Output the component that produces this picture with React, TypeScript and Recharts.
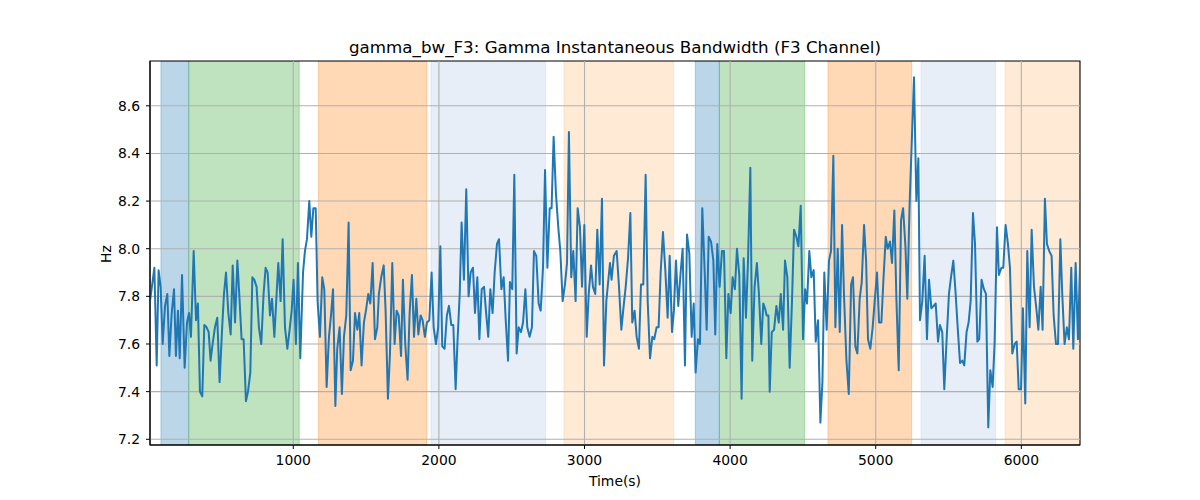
import React from 'react';
import {
  LineChart,
  Line,
  XAxis,
  YAxis,
  ReferenceArea,
  ReferenceLine,
} from 'recharts';

const times = [
  16, 46, 62, 75, 89, 103, 119, 135, 149, 165,
  181, 194, 208, 220, 236, 254, 270, 284, 297, 316,
  332, 345, 359, 375, 389, 405, 419, 432, 446, 462,
  478, 494, 510, 524, 538, 554, 570, 584, 600, 616,
  629, 645, 659, 675, 689, 705, 719, 732, 748, 764,
  780, 796, 810, 824, 840, 854, 870, 883, 897, 913,
  927, 943, 959, 975, 989, 1002, 1018, 1032, 1048, 1067,
  1080, 1094, 1110, 1124, 1138, 1154, 1167, 1183, 1199, 1213,
  1229, 1245, 1259, 1273, 1289, 1302, 1318, 1334, 1348, 1364,
  1380, 1394, 1410, 1424, 1440, 1453, 1469, 1485, 1499, 1515,
  1529, 1545, 1561, 1577, 1588, 1604, 1621, 1634, 1650, 1664,
  1680, 1696, 1710, 1724, 1740, 1753, 1769, 1785, 1799, 1815,
  1829, 1845, 1859, 1875, 1888, 1904, 1918, 1934, 1950, 1964,
  1980, 1995, 2010, 2023, 2039, 2055, 2069, 2085, 2099, 2115,
  2127, 2143, 2156, 2172, 2188, 2204, 2218, 2234, 2248, 2264,
  2278, 2294, 2310, 2323, 2339, 2353, 2369, 2383, 2399, 2413,
  2429, 2445, 2459, 2475, 2488, 2504, 2518, 2534, 2548, 2564,
  2578, 2594, 2607, 2623, 2639, 2653, 2669, 2685, 2699, 2715,
  2729, 2745, 2761, 2774, 2788, 2804, 2820, 2834, 2850, 2866,
  2880, 2893, 2909, 2923, 2939, 2953, 2969, 2983, 2999, 3015,
  3029, 3045, 3058, 3074, 3088, 3104, 3120, 3134, 3150, 3164,
  3175, 3186, 3202, 3221, 3237, 3253, 3269, 3283, 3299, 3315,
  3328, 3344, 3358, 3374, 3388, 3404, 3420, 3434, 3450, 3466,
  3479, 3495, 3509, 3523, 3539, 3555, 3571, 3585, 3601, 3614,
  3628, 3644, 3660, 3674, 3690, 3704, 3720, 3736, 3750, 3763,
  3779, 3793, 3809, 3825, 3839, 3853, 3869, 3885, 3898, 3912,
  3928, 3944, 3958, 3974, 3988, 4004, 4017, 4033, 4047, 4063,
  4079, 4093, 4109, 4123, 4139, 4152, 4168, 4184, 4198, 4214,
  4228, 4240, 4251, 4263, 4272, 4286, 4302, 4318, 4334, 4348,
  4364, 4377, 4393, 4409, 4425, 4439, 4455, 4469, 4485, 4501,
  4515, 4528, 4544, 4558, 4574, 4588, 4604, 4620, 4634, 4647,
  4663, 4679, 4693, 4709, 4723, 4739, 4753, 4769, 4782, 4799,
  4815, 4831, 4844, 4860, 4874, 4890, 4904, 4920, 4934, 4947,
  4963, 4979, 4993, 5009, 5023, 5039, 5053, 5069, 5082, 5098,
  5112, 5128, 5142, 5158, 5174, 5188, 5204, 5217, 5233, 5263,
  5279, 5293, 5304, 5320, 5336, 5352, 5366, 5382, 5398, 5412,
  5428, 5441, 5457, 5471, 5487, 5503, 5517, 5533, 5549, 5563,
  5579, 5595, 5608, 5624, 5638, 5652, 5668, 5682, 5698, 5711,
  5727, 5743, 5757, 5773, 5787, 5803, 5817, 5833, 5846, 5863,
  5876, 5892, 5908, 5922, 5938, 5954, 5968, 5982, 5998, 6011,
  6027, 6041, 6057, 6071, 6087, 6103, 6117, 6133, 6146, 6162,
  6176, 6192, 6208, 6222, 6238, 6252, 6268, 6281, 6297, 6313,
  6327, 6343, 6357, 6373, 6389, 6403,
];

const bandwidth = [
  7.78, 7.92, 7.51, 7.91, 7.84, 7.60, 7.76, 7.81, 7.55, 7.73,
  7.83, 7.55, 7.74, 7.54, 7.89, 7.50, 7.69, 7.73, 7.63, 7.99,
  7.70, 7.77, 7.40, 7.38, 7.68, 7.67, 7.65, 7.53, 7.60, 7.67,
  7.71, 7.44, 7.65, 7.81, 7.90, 7.73, 7.64, 7.93, 7.69, 7.95,
  7.81, 7.62, 7.62, 7.36, 7.40, 7.48, 7.88, 7.87, 7.84, 7.67,
  7.60, 7.81, 7.92, 7.90, 7.72, 7.79, 7.63, 7.78, 7.94, 7.78,
  8.04, 7.67, 7.58, 7.66, 7.74, 7.87, 7.60, 7.94, 7.54, 7.90,
  7.99, 8.04, 8.20, 8.05, 8.17, 8.17, 7.78, 7.63, 7.88, 7.83,
  7.42, 7.63, 7.72, 7.83, 7.34, 7.58, 7.67, 7.39, 7.63, 7.72,
  8.11, 7.49, 7.53, 7.73, 7.66, 7.73, 7.51, 7.69, 7.74, 7.81,
  7.77, 7.94, 7.62, 7.67, 7.81, 7.88, 7.93, 7.74, 7.37, 7.56,
  7.94, 7.60, 7.74, 7.72, 7.55, 7.87, 7.60, 7.45, 7.73, 7.89,
  7.63, 7.79, 7.64, 7.72, 7.70, 7.63, 7.69, 7.70, 7.90, 7.67,
  7.60, 7.67, 8.01, 7.59, 7.58, 7.72, 7.76, 7.68, 7.68, 7.41,
  7.60, 7.81, 8.11, 7.87, 8.25, 7.80, 7.90, 7.92, 7.73, 7.88,
  7.62, 7.83, 7.84, 7.74, 7.63, 7.83, 7.73, 7.90, 8.02, 8.04,
  7.83, 7.88, 7.70, 7.53, 7.86, 7.83, 8.31, 7.56, 7.67, 7.65,
  7.69, 7.83, 7.67, 7.63, 7.67, 7.99, 7.97, 7.77, 7.74, 7.92,
  8.33, 7.92, 8.17, 8.17, 8.47, 8.23, 8.09, 7.99, 7.78, 7.85,
  7.94, 8.49, 7.88, 7.99, 7.78, 8.17, 8.09, 7.84, 8.10, 7.63,
  7.81, 7.93, 7.84, 7.81, 8.08, 7.85, 8.21, 7.51, 7.78, 7.87,
  7.94, 7.87, 7.97, 7.99, 7.84, 7.66, 7.76, 7.84, 7.96, 8.15,
  7.69, 7.74, 7.63, 7.58, 7.85, 7.85, 8.31, 7.78, 7.54, 7.63,
  7.62, 7.67, 7.67, 7.90, 8.07, 7.91, 7.71, 7.97, 7.65, 7.74,
  7.95, 7.76, 7.90, 8.00, 7.51, 8.06, 7.98, 7.63, 7.77, 7.48,
  7.62, 7.60, 8.17, 7.91, 7.66, 8.05, 8.03, 7.95, 7.64, 8.02,
  7.84, 7.99, 7.99, 7.54, 7.81, 7.73, 7.88, 7.83, 8.00, 7.89,
  7.37, 7.96, 7.71, 7.95, 8.34, 7.53, 7.84, 7.94, 7.81, 7.60,
  7.77, 7.75, 7.72, 7.72, 7.40, 7.65, 7.66, 7.76, 7.69, 7.81,
  7.66, 7.95, 7.88, 7.50, 7.78, 8.08, 8.05, 8.01, 8.18, 7.62,
  7.83, 7.77, 7.99, 7.88, 7.91, 7.61, 7.70, 7.27, 7.44, 7.90,
  7.66, 7.95, 7.99, 8.39, 7.67, 8.00, 7.65, 8.10, 7.81, 7.53,
  7.39, 7.85, 7.88, 7.59, 7.56, 7.79, 7.86, 8.10, 7.95, 7.62,
  7.58, 7.67, 7.78, 7.90, 7.69, 7.69, 7.87, 8.05, 8.00, 8.03,
  7.94, 8.16, 7.79, 7.49, 8.12, 8.17, 8.01, 7.79, 8.19, 8.72,
  8.20, 8.38, 7.70, 7.78, 7.97, 7.62, 7.87, 7.75, 7.76, 7.77,
  7.61, 7.68, 7.65, 7.41, 7.62, 7.81, 7.88, 7.95, 7.81, 7.67,
  7.52, 7.53, 7.51, 7.65, 7.69, 7.78, 8.15, 8.02, 7.61, 7.62,
  7.87, 7.83, 7.81, 7.25, 7.49, 7.42, 7.61, 8.09, 7.89, 7.92,
  7.92, 8.10, 8.02, 7.92, 7.56, 7.60, 7.61, 7.41, 7.41, 7.75,
  7.35, 7.99, 7.67, 8.08, 7.84, 7.75, 7.66, 7.84, 7.66, 8.21,
  8.02, 7.99, 7.97, 7.72, 7.60, 7.60, 8.04, 7.81, 7.60, 7.67,
  7.62, 7.92, 7.58, 7.94, 7.62, 7.92,
];

// shaded stages: start, end and colour of each band
const spanStarts = [91, 282, 1172, 1946, 2859, 3761, 3926, 4672, 5311, 5888];
const spanEnds = [282, 1041, 1916, 2733, 3613, 3926, 4512, 5247, 5824, 6403];
const spanColors = [
  '#1f77b4', '#2ca02c', '#ff7f0e', '#aec7e8', '#ffbb78',
  '#1f77b4', '#2ca02c', '#ff7f0e', '#aec7e8', '#ffbb78',
];

const xTicks = [1000, 2000, 3000, 4000, 5000, 6000];
const yTicks = [7.2, 7.4, 7.6, 7.8, 8.0, 8.2, 8.4, 8.6];

const X_MIN = 16;
const X_MAX = 6403;
const Y_MIN = 7.176;
const Y_MAX = 8.788;

const data = times.map((t, i) => ({ t, v: bandwidth[i] }));

const FONT = '"DejaVu Sans", sans-serif';
const tickStyle = { fill: '#000', fontSize: 13.9, fontFamily: FONT };

export default function App() {
  return (
    <div style={{ position: 'absolute', left: 0, top: 0, width: 1200, height: 500, background: '#fff' }}>
      <LineChart
        width={1200}
        height={500}
        data={data}
        margin={{ top: 61, right: 120, bottom: 25, left: 100 }}
      >
        <XAxis
          dataKey="t"
          type="number"
          domain={[X_MIN, X_MAX]}
          ticks={xTicks}
          allowDataOverflow
          height={30}
          tickSize={4}
          tickMargin={6}
          stroke="#000"
          tick={tickStyle}
        />
        <YAxis
          type="number"
          domain={[Y_MIN, Y_MAX]}
          ticks={yTicks}
          allowDataOverflow
          width={50}
          tickSize={4}
          tickMargin={6}
          stroke="#000"
          tick={tickStyle}
          tickFormatter={(v: number) => v.toFixed(1)}
        />
        {spanStarts.map((s, i) => (
          <ReferenceArea
            key={`span-${i}`}
            x1={s}
            x2={spanEnds[i]}
            y1={Y_MIN}
            y2={Y_MAX}
            fill={spanColors[i]}
            fillOpacity={0.3}
            stroke={spanColors[i]}
            strokeOpacity={0.3}
            ifOverflow="hidden"
          />
        ))}
        {xTicks.map((x) => (
          <ReferenceLine key={`gx-${x}`} x={x} stroke="#b0b0b0" strokeWidth={1.1} />
        ))}
        {yTicks.map((y) => (
          <ReferenceLine key={`gy-${y}`} y={y} stroke="#b0b0b0" strokeWidth={1.1} />
        ))}
        <Line
          type="linear"
          dataKey="v"
          stroke="#1f77b4"
          strokeWidth={2}
          strokeLinejoin="round"
          dot={false}
          isAnimationActive={false}
        />
        <ReferenceArea
          x1={X_MIN}
          x2={X_MAX}
          y1={Y_MIN}
          y2={Y_MAX}
          fill="none"
          stroke="#000"
          strokeWidth={1.1}
        />
      </LineChart>
      <svg
        width={1200}
        height={500}
        style={{ position: 'absolute', left: 0, top: 0, pointerEvents: 'none' }}
      >
        <text x={615} y={53} textAnchor="middle" fontFamily={FONT} fontSize={16.7} fill="#000">
          gamma_bw_F3: Gamma Instantaneous Bandwidth (F3 Channel)
        </text>
        <text x={615} y={486} textAnchor="middle" fontFamily={FONT} fontSize={13.9} fill="#000">
          Time(s)
        </text>
        <text
          x={110.5}
          y={254}
          textAnchor="middle"
          fontFamily={FONT}
          fontSize={13.9}
          fill="#000"
          transform="rotate(-90 110.5 254)"
        >
          Hz
        </text>
      </svg>
    </div>
  );
}
